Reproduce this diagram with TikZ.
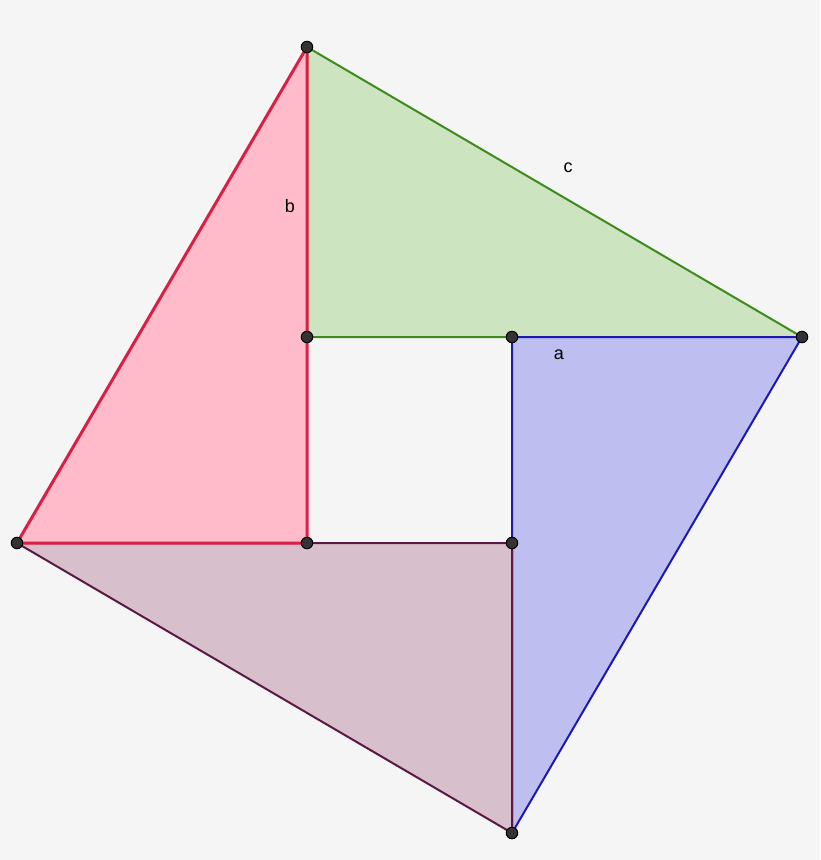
\documentclass[tikz,border=0pt]{standalone}
\usepackage{fontspec}
\setmainfont{Liberation Sans}
\definecolor{bg}{HTML}{F5F5F5}
\definecolor{gfill}{HTML}{CCE4BF}
\definecolor{gline}{HTML}{3F8A1F}
\definecolor{rfill}{HTML}{FFBBC9}
\definecolor{rline}{HTML}{DC1E44}
\definecolor{bfill}{HTML}{BEBEF0}
\definecolor{bline}{HTML}{1A1AB0}
\definecolor{mfill}{HTML}{D8BFCC}
\definecolor{mline}{HTML}{5C1845}
\definecolor{dotc}{HTML}{333333}
\begin{document}
\begin{tikzpicture}[x=1pt,y=-1pt,
  tri/.style={line width=2pt,line join=round},
  pt/.style={circle,fill=dotc,draw=black,line width=1pt,inner sep=0pt,minimum size=11.5pt},
  lab/.style={font=\fontsize{18}{18}\selectfont,inner sep=0pt}]
\fill[bg] (0,0) rectangle (820,860);
\useasboundingbox (0,0) rectangle (820,860);
\coordinate (T) at (307,47);
\coordinate (R) at (802,337);
\coordinate (B) at (512,833);
\coordinate (L) at (17,543);
\coordinate (P1) at (307,337);
\coordinate (P2) at (512,337);
\coordinate (P3) at (512,543);
\coordinate (P4) at (307,543);
% green
\filldraw[tri,fill=gfill,draw=gline] (T) -- (R) -- (P1) -- cycle;
% blue
\filldraw[tri,fill=bfill,draw=bline] (P2) -- (R) -- (B) -- cycle;
% maroon
\filldraw[tri,fill=mfill,draw=mline] (L) -- (P3) -- (B) -- cycle;
% red
\filldraw[tri,line width=3pt,fill=rfill,draw=rline] (T) -- (P4) -- (L) -- cycle;
% labels
\node[lab] (lc) at (568,168) {c};
\node[lab] (lb) at (290,206) {b};
\node[lab] (la) at (559,355) {a};
% points
\foreach \p in {T,R,B,L,P1,P2,P3,P4} \node[pt] (d\p) at (\p) {};
\end{tikzpicture}
\end{document}
